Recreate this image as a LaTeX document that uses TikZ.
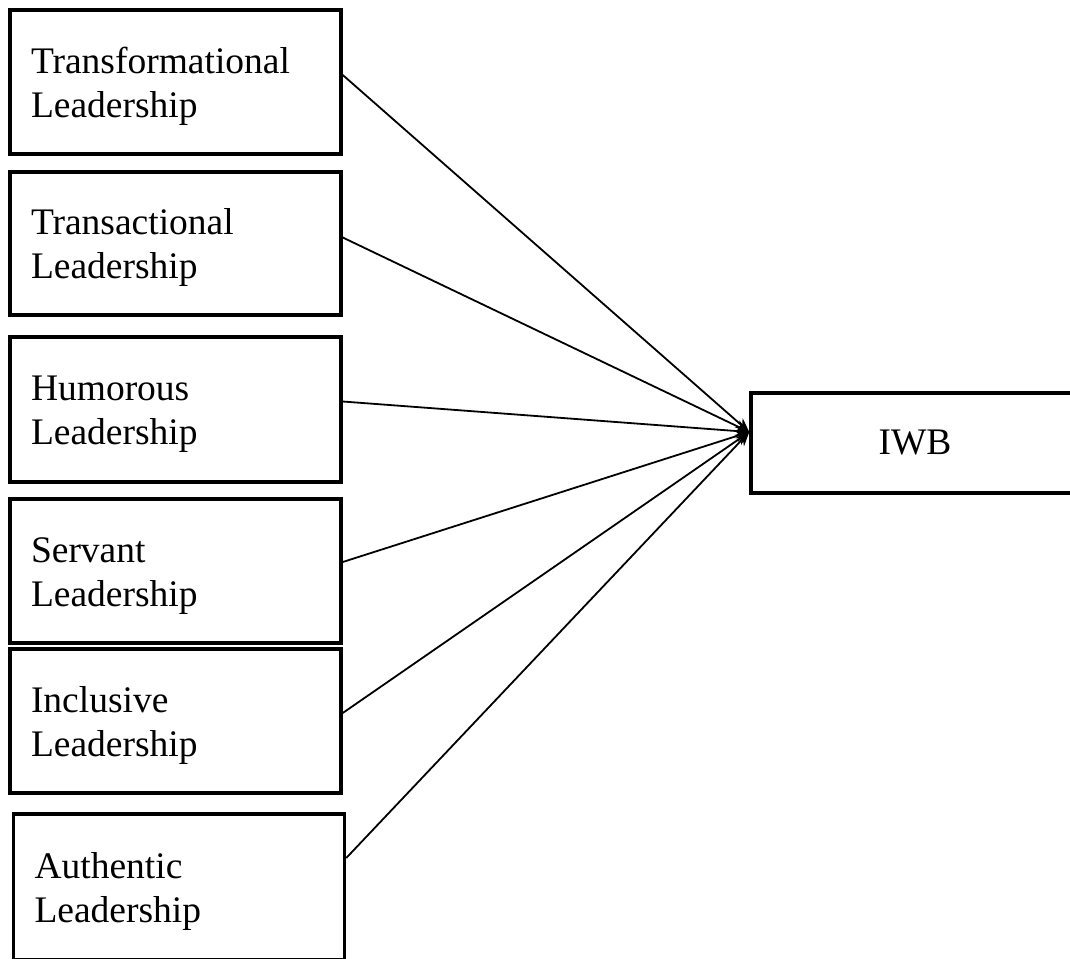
\documentclass[tikz,border=0pt]{standalone}
\usepackage{fontspec}
\setmainfont{Liberation Serif}
\usetikzlibrary{arrows.meta}
\begin{document}
\begin{tikzpicture}[x=1pt,y=-1pt,
  lbox/.style={draw=black, line width=3.5pt, rectangle, minimum width=331pt, minimum height=144pt,
    inner xsep=21pt, text width=289pt, align=left, text height=34pt, font=\fontsize{37.5}{44}\selectfont},
  obox/.style={draw=black, line width=3.5pt, rectangle, minimum width=328pt, minimum height=100pt,
    align=center, font=\fontsize{37.5}{44}\selectfont},
  conn/.style={line width=1.8pt, -{Stealth[length=14pt,width=12pt]}}]
\useasboundingbox (0,0) rectangle (1070,958);
\node[lbox] (b1) at (175.5,82) {Transformational\\Leadership};
\node[lbox, minimum height=143pt] (b2) at (175.5,243.5) {Transactional\\Leadership};
\node[lbox, minimum height=145pt] (b3) at (175.5,409.5) {Humorous\\Leadership};
\node[lbox] (b4) at (175.5,571) {Servant\\Leadership};
\node[lbox] (b5) at (175.5,721) {Inclusive\\Leadership};
\node[lbox, minimum height=146pt] (b6) at (179,887) {Authentic\\Leadership};
\node[obox] (iwb) at (915,443) {IWB};
\coordinate (tip) at ([yshift=11pt]iwb.west);
\draw[conn] ([yshift=7pt]b1.east) -- (tip);
\draw[conn] ([yshift=6pt]b2.east) -- (tip);
\draw[conn] ([yshift=8pt]b3.east) -- (tip);
\draw[conn] ([yshift=9pt]b4.east) -- (tip);
\draw[conn] ([yshift=8pt]b5.east) -- (tip);
\draw[conn] ([yshift=29pt]b6.east) -- (tip);
\end{tikzpicture}
\end{document}
